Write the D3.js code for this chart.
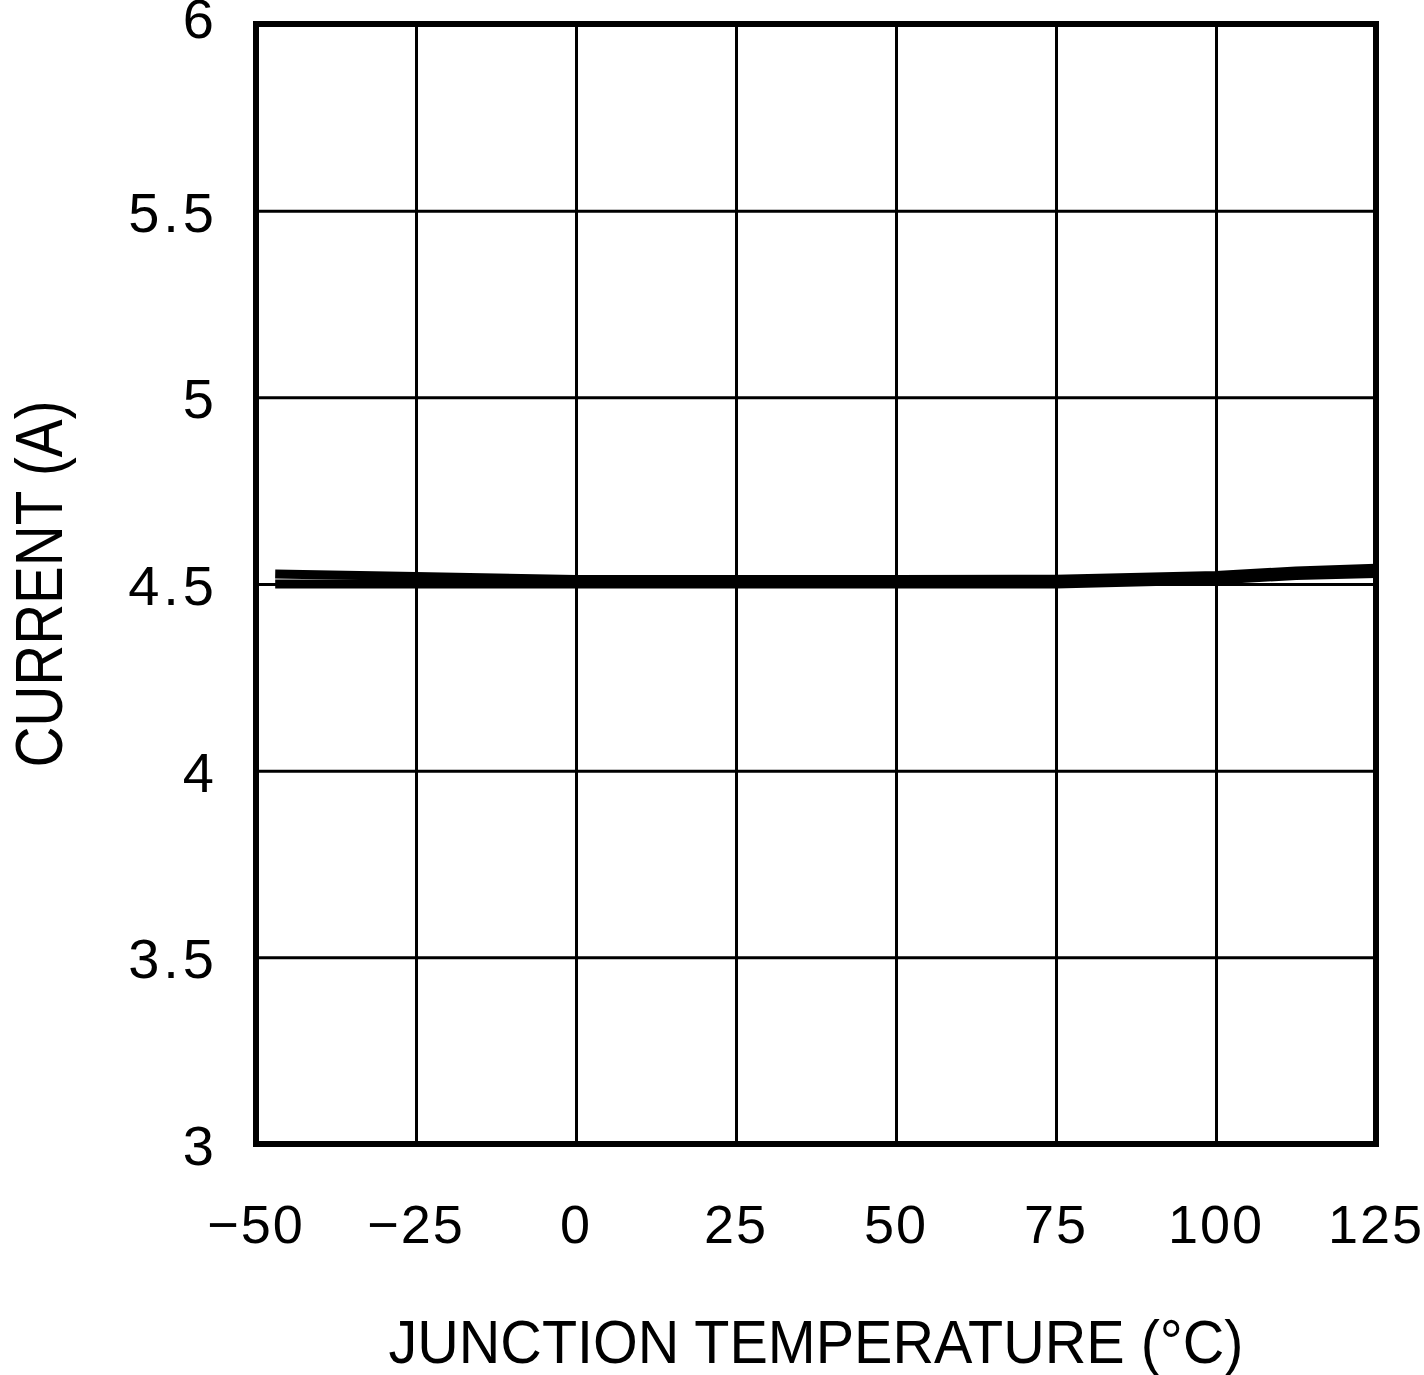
<!DOCTYPE html>
<html>
<head>
<meta charset="utf-8">
<script src="https://cdn.jsdelivr.net/npm/d3@7"></script>
<style>
  html, body { margin: 0; padding: 0; background: #fff; }
  svg text { font-family: "Liberation Sans", Arial, sans-serif; fill: #000; }
</style>
</head>
<body>
<div id="chart"></div>
<script>
// data
const temps = [-47, -25, 0, 25, 50, 75, 100, 112.5, 125];
const currentUpper = [4.527, 4.520, 4.512, 4.512, 4.512, 4.513, 4.523, 4.535, 4.542];
const currentLower = [4.500, 4.500, 4.500, 4.500, 4.500, 4.500, 4.511, 4.523, 4.528];
const xTicks = [-50, -25, 0, 25, 50, 75, 100, 125];
const yTicks = [3, 3.5, 4, 4.5, 5, 5.5, 6];
const xTitle = 'JUNCTION TEMPERATURE (°C)';
const yTitle = 'CURRENT (A)';

const fullWidth = 1424;
const fullHeight = 1375;
const margin = {top: 24, right: 48, bottom: 231, left: 256};
const width = fullWidth - margin.left - margin.right;   // 1120
const height = fullHeight - margin.top - margin.bottom; // 1120

const xScale = d3.scaleLinear().domain([-50, 125]).range([0, width]);
const yScale = d3.scaleLinear().domain([3, 6]).range([height, 0]);

const svg = d3.select('#chart')
  .append('svg')
    .attr('width', fullWidth)
    .attr('height', fullHeight)
  .append('g')
    .attr('transform', 'translate(' + margin.left + ',' + margin.top + ')');

// grid
svg.append('g')
  .attr('class', 'grid x')
  .attr('transform', 'translate(0,' + height + ')')
  .call(d3.axisBottom(xScale).tickValues(xTicks).tickSize(-height).tickFormat(''))
  .call(g => g.select('.domain').remove())
  .call(g => g.selectAll('line').attr('stroke', '#000').attr('stroke-width', 3));

svg.append('g')
  .attr('class', 'grid y')
  .call(d3.axisLeft(yScale).tickValues(yTicks).tickSize(-width).tickFormat(''))
  .call(g => g.select('.domain').remove())
  .call(g => g.selectAll('line').attr('stroke', '#000').attr('stroke-width', 3));

// curves
const series = [currentUpper, currentLower];
const line = d3.line()
  .x((d, i) => xScale(temps[i]))
  .y(d => yScale(d));

svg.selectAll('.curve')
  .data(series)
  .enter().append('path')
    .attr('class', 'curve')
    .attr('fill', 'none')
    .attr('stroke', '#000')
    .attr('stroke-width', 9)
    .attr('stroke-linejoin', 'round')
    .attr('stroke-linecap', 'butt')
    .attr('d', line);

// frame
svg.append('rect')
  .attr('x', 0)
  .attr('y', 0)
  .attr('width', width)
  .attr('height', height)
  .attr('fill', 'none')
  .attr('stroke', '#000')
  .attr('stroke-width', 6);

// tick labels
svg.append('g')
  .attr('class', 'x labels')
  .selectAll('text')
  .data(xTicks)
  .enter().append('text')
    .attr('x', d => xScale(d))
    .attr('y', height + 99)
    .attr('text-anchor', 'middle')
    .attr('font-size', 54)
    .attr('letter-spacing', 2)
    .text(d => d3.format('d')(d));

// top label sits a little higher in the original
svg.append('g')
  .attr('class', 'y labels')
  .selectAll('text')
  .data(yTicks)
  .enter().append('text')
    .attr('x', -38)
    .attr('y', d => yScale(d) + (d === d3.max(yTicks) ? 14 : 21))
    .attr('text-anchor', 'end')
    .attr('font-size', 56)
    .attr('letter-spacing', 4)
    .text(d => d);

// axis titles
svg.append('text')
  .attr('x', width / 2)
  .attr('y', height + 219)
  .attr('text-anchor', 'middle')
  .attr('font-size', 62)
  .attr('textLength', 855)
  .attr('lengthAdjust', 'spacingAndGlyphs')
  .text(xTitle);

svg.append('text')
  .attr('transform', 'translate(' + (-194) + ',' + (height / 2) + ') rotate(-90)')
  .attr('text-anchor', 'middle')
  .attr('font-size', 66)
  .attr('textLength', 367)
  .attr('lengthAdjust', 'spacingAndGlyphs')
  .text(yTitle);
</script>
</body>
</html>
